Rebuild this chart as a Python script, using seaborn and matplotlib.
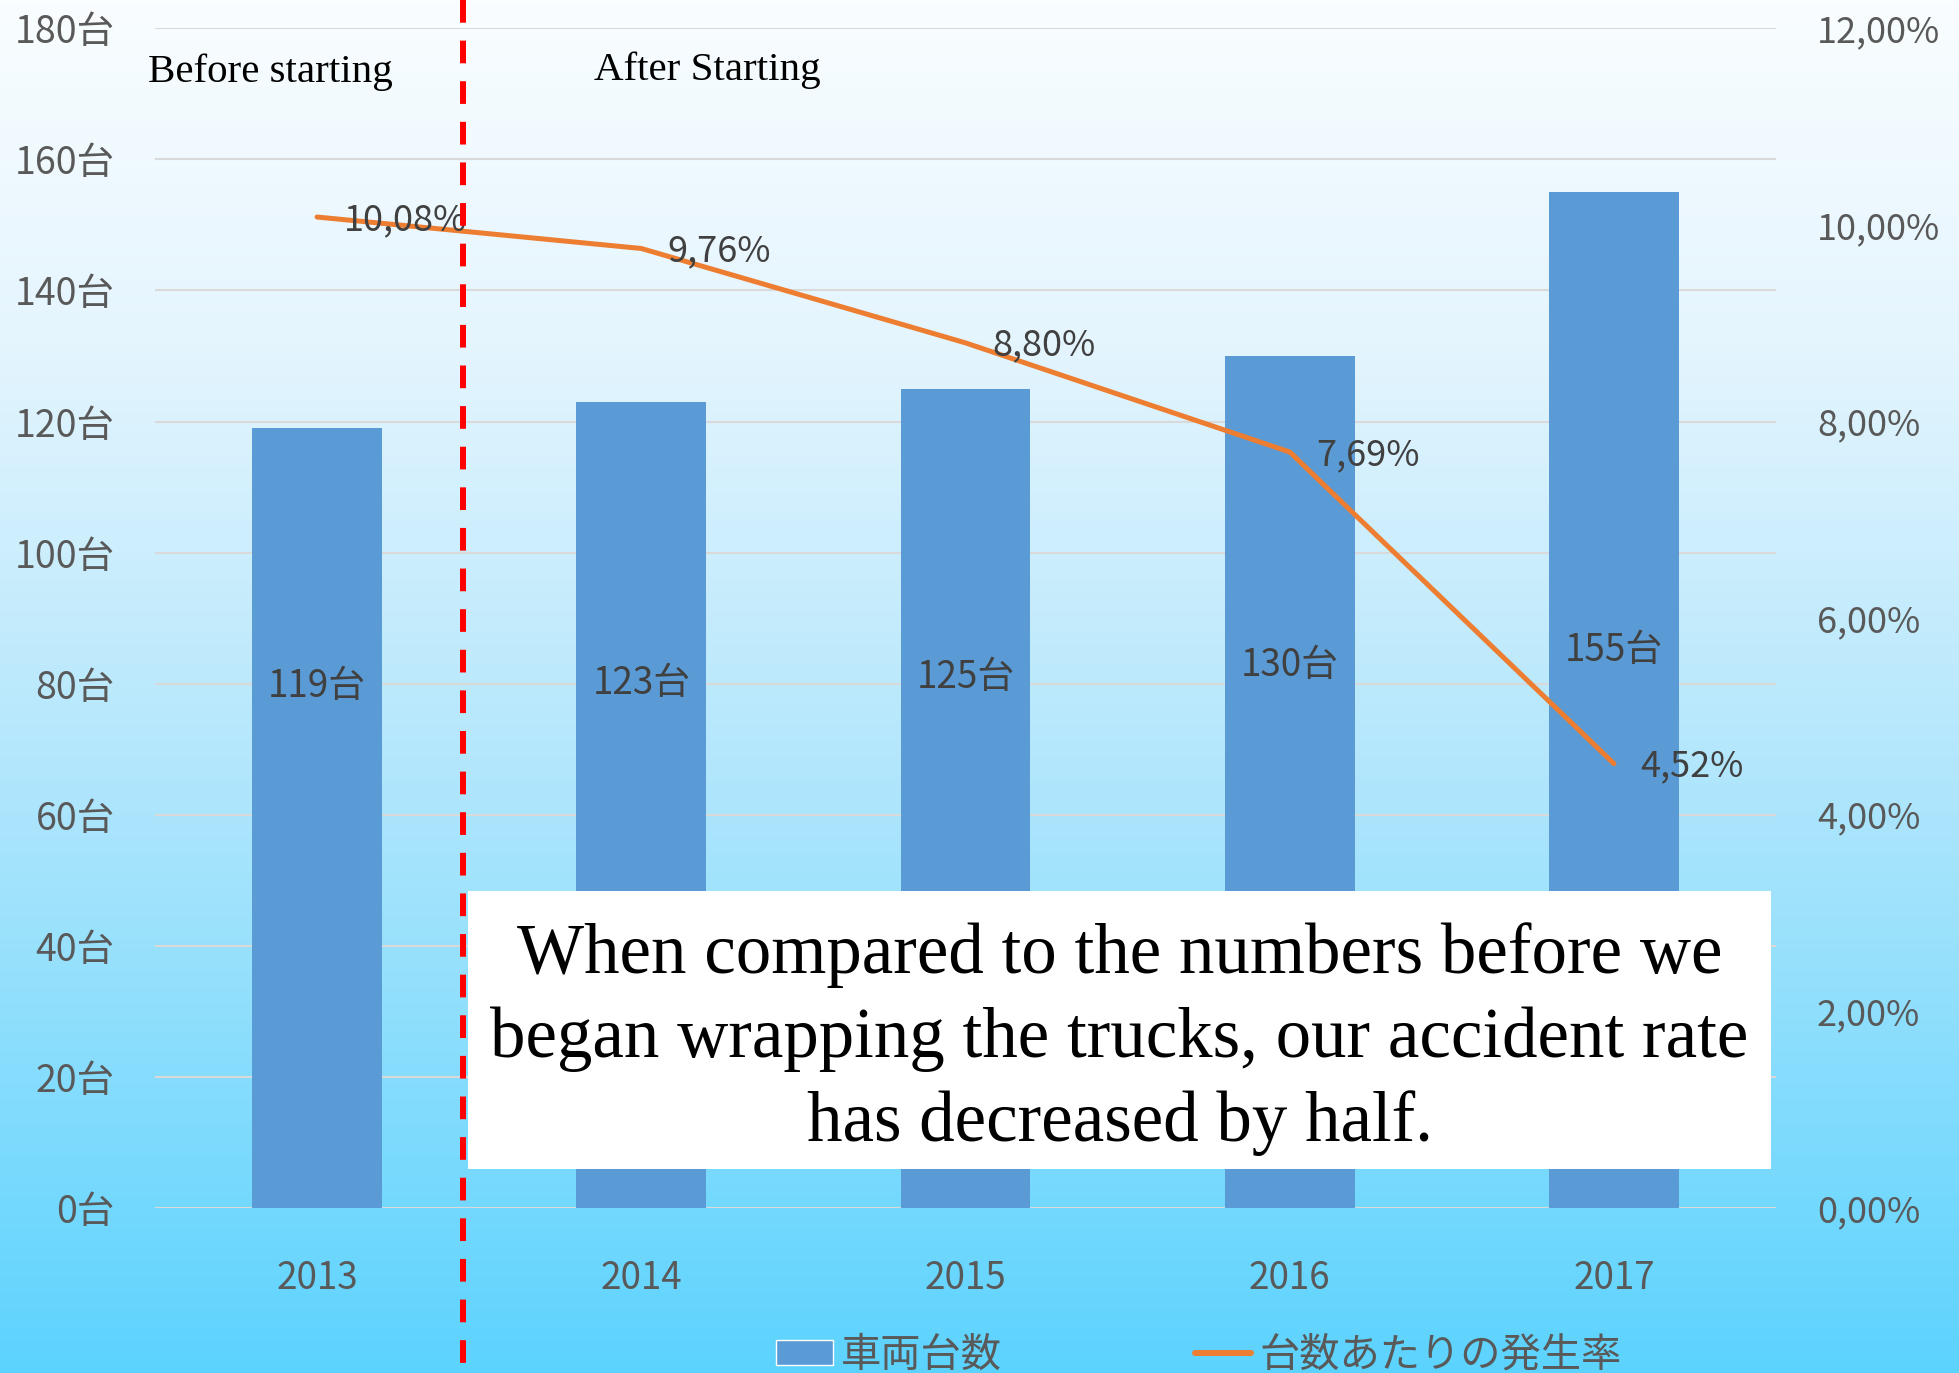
import numpy as np
import matplotlib
matplotlib.use("Agg")
import matplotlib.pyplot as plt
import matplotlib.transforms as mtransforms
from matplotlib.colors import LinearSegmentedColormap
from matplotlib.lines import Line2D
from matplotlib.patches import Patch, Rectangle
import seaborn as sns


# ---- data ------------------------------------------------------------------

years = ["2013", "2014", "2015", "2016", "2017"]
vehicles = [119, 123, 125, 130, 155]            # 車両台数
accident_rate = [10.08, 9.76, 8.80, 7.69, 4.52]  # 台数あたりの発生率 (%)
bar_label_height = [79.5, 80, 80.9, 82.8, 85.1]  # where the bar labels sit

left_ticks = [0, 20, 40, 60, 80, 100, 120, 140, 160, 180]
right_ticks = [0, 2, 4, 6, 8, 10, 12]

bar_name = "車両台数"
line_name = "台数あたりの発生率"
before_text = "Before starting"
after_text = "After Starting"
note = ("When compared to the numbers before we\n"
        "began wrapping the trucks, our accident rate\n"
        "has decreased by half.")
divider_x = 0.45  # between 2013 and 2014

bar_color = "#5b9bd5"
line_color = "#ed7d31"
tick_color = "#595959"
label_color = "#404040"


# ---- figure + gradient background -----------------------------------------

sns.set_theme(style="white")
plt.rcParams["font.family"] = ["Noto Sans CJK JP", "DejaVu Sans"]

fig = plt.figure(figsize=(19.59, 13.73), dpi=100)

bg = fig.add_axes([0, 0, 1, 1])
cmap = LinearSegmentedColormap.from_list(
    "bg", [(0, "#f9fdff"), (0.25, "#e4f5fe"), (0.55, "#b4e7fc"), (1, "#5cd3fe")])
bg.imshow(np.linspace(0, 1, 256).reshape(-1, 1), aspect="auto", cmap=cmap,
          extent=[0, 1, 0, 1])
bg.set_axis_off()

ax = fig.add_axes([0.0791, 0.1202, 0.8275, 0.8592])
ax.patch.set_alpha(0)


# ---- bars ------------------------------------------------------------------

sns.barplot(x=years, y=vehicles, color=bar_color, saturation=1, width=0.4,
            linewidth=0, ax=ax, zorder=2)
ax.set_xlim(-0.5, 4.5)
ax.set_ylim(0, 180)
ax.set_yticks(left_ticks)
ax.set_yticklabels([f"{t}台" for t in left_ticks])
ax.grid(axis="y", color="#d9d9d9", lw=1.5)
ax.grid(axis="x", visible=False)
ax.set_axisbelow(True)
ax.set_xlabel("")
ax.set_ylabel("")
ax.tick_params(axis="y", length=0, labelsize=27, labelcolor=tick_color, pad=29)
ax.tick_params(axis="x", length=0, labelsize=26.5, labelcolor=tick_color, pad=37)
for s in ax.spines.values():
    s.set_visible(False)

for i, v in enumerate(vehicles):
    ax.text(i, bar_label_height[i], f"{v}台", ha="center", va="center",
            fontsize=26.5, color=label_color, zorder=3)


# ---- line on the right axis ------------------------------------------------

ax2 = ax.twinx()
sns.lineplot(x=np.arange(len(years)), y=accident_rate, color=line_color,
             lw=3.6, ax=ax2, solid_capstyle="round")
ax2.set_xlim(-0.5, 4.5)
ax2.set_ylim(0, 12)
ax2.set_yticks(right_ticks)
ax2.set_yticklabels([f"{t:.2f}%".replace(".", ",") for t in right_ticks])
ax2.tick_params(axis="y", length=0, labelsize=26, labelcolor=tick_color, pad=29.5)
ax2.grid(False)
for s in ax2.spines.values():
    s.set_visible(False)

for i, r in enumerate(accident_rate):
    ax2.annotate(f"{r:.2f}%".replace(".", ","), (i, r), xytext=(19, -2),
                 textcoords="offset points", ha="left", va="center",
                 fontsize=26, color=label_color)


# ---- annotation box, divider, texts ----------------------------------------

ax2.add_patch(Rectangle((0.193, 0.033), 0.804, 0.236, transform=ax2.transAxes,
                        facecolor="white", edgecolor="none", zorder=5))
ax2.text(0.595, 0.143, note, transform=ax2.transAxes, ha="center", va="center",
         fontsize=51, family="Liberation Serif", linespacing=1.36,
         color="black", zorder=6)

trans = mtransforms.blended_transform_factory(ax.transData, fig.transFigure)
fig.add_artist(Line2D([divider_x, divider_x], [1, 0], transform=trans,
                      color="red", lw=4.3, dashes=(3.8, 3), zorder=10))

fig.text(0.0755, 0.9403, before_text, va="baseline", ha="left",
         family="Liberation Serif", fontsize=29.5, color="black")
fig.text(0.3032, 0.9417, after_text, va="baseline", ha="left",
         family="Liberation Serif", fontsize=29.5, color="black")

handles = [Patch(facecolor=bar_color), Line2D([], [], color=line_color, lw=4.3)]
fig.legend(handles, [bar_name, line_name], loc="center",
           bbox_to_anchor=(0.612, 0.013), ncol=2, frameon=False, fontsize=29,
           handlelength=1.4, handleheight=0.6, handletextpad=0.2,
           columnspacing=4.8, labelcolor=tick_color)

fig.savefig("out.png", dpi=100)
